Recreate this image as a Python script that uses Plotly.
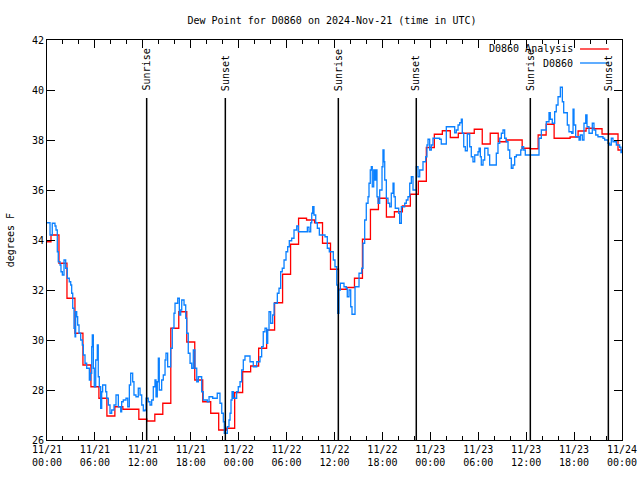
import plotly.graph_objects as go

# ---------------- data ----------------
title_text = "Dew Point for D0860 on 2024-Nov-21 (time in UTC)"
y_label = "degrees F"

# hourly analysis values, hour 0 .. 72 (hours since 11/21 00:00 UTC)
analysis_hours = list(range(73))
analysis_values = [
    33.93, 34.20, 33.07, 31.67, 30.27, 29.00, 28.13, 27.67, 26.96, 27.33,
    27.23, 27.23, 26.83, 26.76, 27.03, 27.47, 30.47, 31.13, 29.92, 28.40,
    27.53, 27.07, 26.40, 26.47, 27.90, 28.73, 28.96, 29.67, 30.40, 31.49,
    32.63, 33.83, 34.87, 34.80, 34.69, 33.87, 32.83, 32.03, 32.10, 32.47,
    34.03, 35.22, 35.67, 34.92, 35.13, 35.36, 35.83, 36.35, 37.70, 38.23,
    38.37, 38.10, 38.27, 38.27, 38.43, 37.84, 38.27, 37.93, 38.00, 38.00,
    37.67, 37.65, 38.20, 38.63, 38.07, 38.07, 38.12, 38.36, 38.47, 38.45,
    38.24, 38.24, 37.60,
]

# observations (hours since 11/21 00:00 UTC)
obs_hours = [
    0.00, 0.38, 0.66, 1.00, 1.13, 1.29, 1.41, 1.63, 1.75, 1.92,
    2.13, 2.34, 2.54, 2.79, 2.97, 3.09, 3.22, 3.38, 3.51, 3.59,
    3.72, 3.84, 4.01, 4.22, 4.42, 4.55, 4.76, 4.97, 5.30, 5.47,
    5.60, 5.67, 5.80, 5.92, 6.10, 6.30, 6.42, 6.55, 6.72, 6.85,
    6.97, 7.35, 7.48, 7.68, 7.89, 8.10, 8.39, 8.64, 8.93, 9.23,
    9.35, 9.55, 9.89, 10.11, 10.31, 10.48, 10.73, 10.89, 11.14, 11.43,
    11.65, 11.86, 12.06, 12.27, 12.40, 12.68, 12.90, 13.11, 13.31, 13.52,
    13.65, 13.81, 13.94, 14.06, 14.36, 14.56, 14.78, 14.90, 15.11, 15.49,
    15.69, 15.90, 16.03, 16.37, 16.57, 16.74, 16.87, 17.16, 17.37, 17.49,
    17.69, 17.91, 18.12, 18.32, 18.53, 18.75, 18.95, 19.37, 19.57, 20.07,
    20.29, 20.75, 21.32, 21.66, 21.88, 22.08, 22.20, 22.58, 22.79, 22.92,
    23.04, 23.17, 23.33, 23.75, 23.95, 24.17, 24.38, 24.58, 24.79, 25.42,
    25.83, 26.26, 26.67, 26.88, 27.08, 27.30, 27.51, 27.64, 27.80, 28.01,
    28.26, 28.43, 28.84, 29.05, 29.26, 29.46, 29.68, 29.93, 30.14, 30.34,
    30.64, 30.93, 31.27, 31.47, 32.43, 32.60, 32.81, 33.02, 33.15, 33.27,
    33.43, 33.65, 33.85, 34.10, 34.81, 35.10, 35.35, 35.85, 36.06, 36.28,
    36.40, 36.56, 36.73, 37.19, 37.48, 37.60, 37.82, 38.03, 38.19, 38.57,
    39.07, 39.41, 39.57, 39.78, 39.98, 40.20, 40.32, 40.48, 40.61, 40.73,
    40.91, 41.03, 41.16, 41.32, 41.45, 41.66, 41.95, 42.07, 42.20, 42.29,
    42.49, 42.70, 42.91, 43.11, 43.33, 43.45, 43.61, 44.04, 44.16, 44.37,
    44.79, 44.99, 45.20, 45.42, 45.62, 45.83, 46.24, 46.46, 46.67, 47.08,
    47.42, 47.58, 47.71, 47.92, 48.12, 48.33, 49.17, 49.37, 50.00, 51.05,
    51.25, 51.47, 51.68, 51.88, 52.00, 52.18, 52.38, 52.63, 52.93, 53.13,
    53.34, 53.56, 53.97, 54.10, 54.26, 54.38, 54.60, 54.81, 55.22, 55.43,
    56.26, 56.47, 56.69, 56.89, 57.10, 57.31, 57.51, 57.73, 57.94, 58.14,
    58.35, 58.56, 58.77, 59.32, 59.48, 59.69, 59.89, 61.27, 61.61, 61.90,
    62.52, 62.86, 63.02, 63.27, 63.57, 63.77, 63.99, 64.28, 64.53, 64.70,
    65.15, 65.36, 65.70, 65.87, 65.99, 66.20, 66.62, 66.78, 67.03, 67.24,
    67.46, 67.62, 67.87, 68.28, 68.49, 68.71, 68.99, 69.62, 69.83, 70.25,
    70.46, 70.66, 70.87, 71.29, 71.71, 71.87, 72.00,
]
obs_values = [
    34.69, 34.20, 34.67, 34.56, 34.40, 33.53, 33.13, 33.00, 32.73, 32.60,
    33.20, 32.87, 32.47, 32.33, 32.20, 31.87, 31.27, 30.47, 30.13, 31.13,
    30.93, 30.60, 30.27, 30.00, 29.80, 29.40, 29.07, 28.87, 28.40, 28.67,
    29.73, 30.20, 28.87, 28.13, 29.20, 29.80, 28.53, 28.13, 27.27, 27.93,
    28.20, 27.93, 27.67, 27.40, 27.07, 27.20, 27.40, 27.80, 27.33, 27.13,
    27.53, 27.60, 27.67, 27.33, 28.20, 28.67, 28.33, 27.80, 27.73, 28.07,
    27.80, 27.40, 27.17, 27.20, 27.67, 27.53, 27.40, 27.60, 28.13, 28.40,
    27.73, 28.33, 29.27, 28.00, 28.40, 28.60, 29.20, 29.47, 28.93, 29.67,
    30.47, 31.07, 31.47, 31.67, 31.00, 31.20, 31.60, 31.40, 30.87, 30.27,
    29.47, 29.07, 28.87, 29.60, 28.87, 28.33, 28.53, 27.93, 27.60, 27.53,
    27.73, 27.67, 27.87, 27.47, 27.07, 26.73, 26.27, 26.53, 26.80, 27.07,
    27.60, 27.93, 27.67, 27.93, 28.13, 28.33, 28.80, 29.20, 29.36, 29.13,
    28.93, 29.13, 29.33, 29.73, 30.33, 30.47, 29.87, 30.40, 31.13, 30.67,
    31.00, 31.47, 31.87, 32.07, 32.73, 32.87, 33.20, 33.53, 33.73, 33.97,
    34.07, 34.40, 34.56, 34.33, 34.33, 34.51, 34.33, 34.69, 35.07, 35.33,
    35.00, 34.69, 34.47, 34.20, 34.13, 33.67, 33.53, 33.20, 32.93, 32.20,
    31.07, 32.00, 32.27, 32.13, 32.07, 31.73, 32.00, 31.33, 31.03, 32.13,
    32.67, 32.87, 33.87, 34.80, 35.47, 35.73, 36.27, 36.80, 36.93, 36.13,
    36.80, 36.40, 36.80, 35.73, 35.47, 36.00, 36.93, 37.60, 37.13, 36.40,
    35.67, 35.47, 35.33, 35.87, 36.27, 35.73, 35.27, 35.07, 34.67, 35.33,
    35.47, 35.60, 35.73, 36.27, 36.53, 36.00, 36.93, 36.53, 36.80, 37.13,
    37.33, 37.80, 38.03, 37.60, 37.80, 38.07, 38.03, 37.84, 38.53, 38.29,
    38.40, 38.60, 38.69, 38.83, 38.27, 37.73, 37.57, 38.24, 37.73, 37.33,
    37.13, 37.40, 37.53, 37.67, 37.33, 37.00, 37.20, 37.67, 37.40, 37.00,
    37.47, 37.87, 38.07, 38.27, 38.40, 38.07, 37.93, 37.60, 37.27, 36.87,
    37.00, 37.33, 37.40, 37.60, 37.73, 37.60, 37.40, 37.40, 38.07, 38.40,
    38.73, 39.09, 38.83, 38.67, 39.13, 39.40, 39.73, 40.11, 39.53, 39.09,
    38.60, 38.33, 38.27, 39.23, 38.60, 38.13, 38.00, 38.20, 38.00, 38.67,
    39.00, 38.53, 38.27, 38.67, 38.40, 38.20, 38.13, 38.07, 38.00, 37.87,
    37.80, 38.07, 37.93, 37.80, 37.71, 37.50, 37.60,
]

# sunrise / sunset times (hours since 11/21 00:00 UTC)
sun_hours = [12.48, 22.33, 36.48, 46.24, 60.52, 70.29]
sun_labels = ["Sunrise", "Sunset", "Sunrise", "Sunset", "Sunrise", "Sunset"]

x_tick_hours = [0, 6, 12, 18, 24, 30, 36, 42, 48, 54, 60, 66, 72]
x_tick_labels = [
    "11/21<br>00:00", "11/21<br>06:00", "11/21<br>12:00", "11/21<br>18:00",
    "11/22<br>00:00", "11/22<br>06:00", "11/22<br>12:00", "11/22<br>18:00",
    "11/23<br>00:00", "11/23<br>06:00", "11/23<br>12:00", "11/23<br>18:00",
    "11/24<br>00:00",
]
series_names = ["D0860 Analysis", "D0860"]
series_colors = ["#ff0000", "#0a80ff"]

# ---------------- figure ----------------
FONT = "DejaVu Sans Mono"
fig = go.Figure()
fig.add_trace(go.Scatter(x=analysis_hours, y=analysis_values, mode="lines",
                         name=series_names[0], line=dict(color=series_colors[0], width=1.3, shape="hvh")))
fig.add_trace(go.Scatter(x=obs_hours, y=obs_values, mode="lines",
                         name=series_names[1], line=dict(color=series_colors[1], width=1.3, shape="hv")))

shapes = []
annotations = []
for t, lab in zip(sun_hours, sun_labels):
    shapes.append(dict(type="line", xref="x", yref="paper", x0=t, x1=t, y0=0, y1=0.855,
                       line=dict(color="black", width=1.5)))
    annotations.append(dict(x=t, y=0.868, xref="x", yref="paper", text=lab, textangle=-90,
                            showarrow=False, xanchor="center", yanchor="bottom",
                            font=dict(family=FONT, size=10, color="black")))

# legend drawn gnuplot-style (text left of sample)
legend_y = [0.9775, 0.9425]
for name, col, yy in zip(series_names, series_colors, legend_y):
    annotations.append(dict(x=0.918, y=yy, xref="paper", yref="paper", text=name, showarrow=False,
                            xanchor="right", yanchor="middle", font=dict(family=FONT, size=10, color="black")))
    shapes.append(dict(type="line", xref="paper", yref="paper", x0=0.927, x1=0.977, y0=yy, y1=yy,
                       line=dict(color=col, width=1.3)))

annotations.append(dict(x=-0.064, y=0.5, xref="paper", yref="paper", text=y_label, textangle=-90,
                        showarrow=False, xanchor="center", yanchor="middle",
                        font=dict(family=FONT, size=10, color="black")))

fig.update_layout(
    width=640, height=480,
    paper_bgcolor="white", plot_bgcolor="white",
    margin=dict(l=47, r=18, t=40, b=40, autoexpand=False),
    showlegend=False,
    font=dict(family=FONT, size=10, color="black"),
    title=dict(text=title_text, x=332 / 640, xanchor="center", y=1 - 20 / 480, yanchor="middle",
               font=dict(family=FONT, size=10, color="black")),
    shapes=shapes, annotations=annotations,
)
fig.update_xaxes(range=[0, 72], tickmode="array", tickvals=x_tick_hours, ticktext=x_tick_labels,
                 ticks="inside", ticklen=8, tickwidth=1, tickcolor="black",
                 showline=True, linecolor="black", linewidth=1, mirror="ticks",
                 showgrid=False, zeroline=False, automargin=False,
                 minor=dict(ticks="inside", dtick=2, tick0=0, ticklen=4, tickcolor="black", showgrid=False))
fig.update_yaxes(range=[26, 42], tickmode="linear", tick0=26, dtick=2,
                 ticks="inside", ticklen=8, tickwidth=1, tickcolor="black",
                 showline=True, linecolor="black", linewidth=1, mirror="ticks",
                 showgrid=False, zeroline=False, automargin=False)

fig.write_html("out.html", config={"displayModeBar": False},
               post_script="document.body.style.margin='0px';document.body.style.padding='0px';")
